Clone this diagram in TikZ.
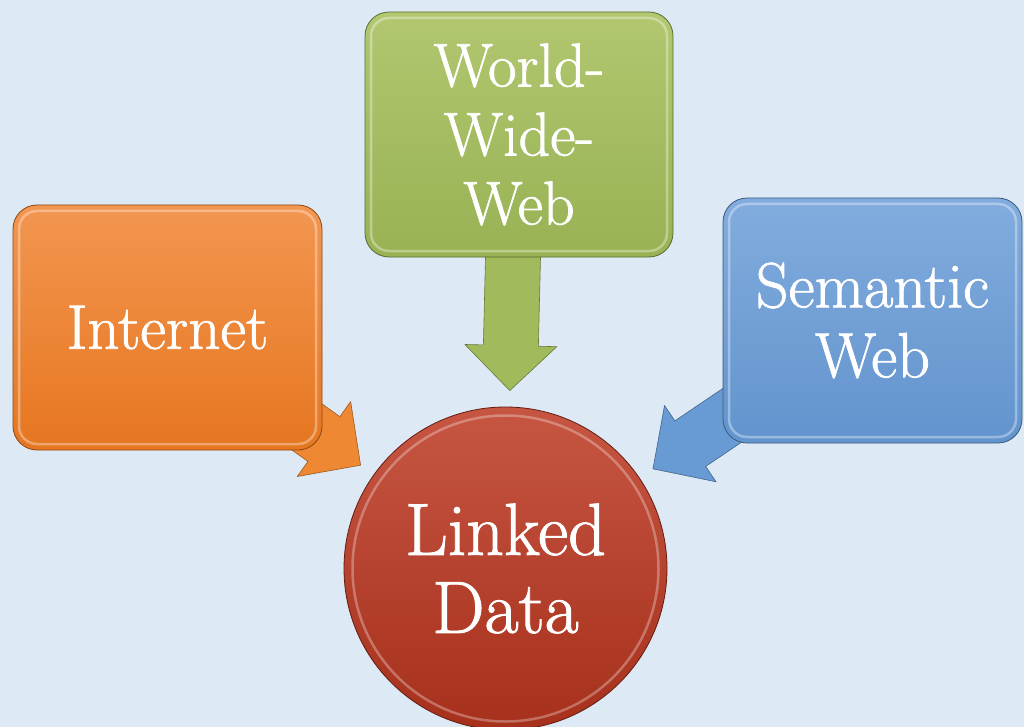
\documentclass[tikz,border=0pt]{standalone}
\usepackage{fontspec}
\usetikzlibrary{calc}

\newfontfamily\boxfont{Latin Modern Roman}[FakeBold=1.2]

\definecolor{paper}{RGB}{221,233,245}
\definecolor{orangetop}{RGB}{243,150,80}
\definecolor{orangebot}{RGB}{230,118,32}
\definecolor{greentop}{RGB}{178,199,112}
\definecolor{greenbot}{RGB}{152,178,84}
\definecolor{bluetop}{RGB}{130,172,222}
\definecolor{bluebot}{RGB}{98,148,205}
\definecolor{redtop}{RGB}{198,86,66}
\definecolor{redbot}{RGB}{166,48,28}
\definecolor{orangearr}{RGB}{238,136,50}
\definecolor{greenarr}{RGB}{160,186,92}
\definecolor{bluearr}{RGB}{104,155,212}

\pgfdeclarelayer{paperlayer}
\pgfdeclarelayer{arrowlayer}
\pgfsetlayers{paperlayer,arrowlayer,main}

% block arrow from a box towards the circle
\newcommand{\blockarrow}[3]{%
	\coordinate (tip) at ($(#3.center)!178pt!(#2)$);
	\coordinate (base) at ($(tip)!45pt!(#2)$);
	\coordinate (tail) at ($(tip)!150pt!(#2)$);
	\filldraw[fill=#1, draw=#1!65!black, line width=.6pt, line join=round]
		($(tail)!27.5pt!90:(tip)$) -- ($(base)!27.5pt!90:(tip)$) -- ($(base)!46pt!90:(tip)$) -- (tip)
		-- ($(base)!46pt!-90:(tip)$) -- ($(base)!27.5pt!-90:(tip)$) -- ($(tail)!27.5pt!-90:(tip)$) -- cycle;
}

\begin{document}
\begin{tikzpicture}[x=1pt, y=-1pt,
		box/.style={rectangle, rounded corners=24pt, draw=#1bot!60!black, line width=.8pt,
			top color=#1top, bottom color=#1bot, text=white, align=center,
			minimum height=245pt, inner sep=0pt,
			path picture={\draw[white, opacity=.35, line width=2.5pt, rounded corners=18pt]
				([shift={(6pt,-6pt)}]path picture bounding box.north west) rectangle
				([shift={(-6pt,6pt)}]path picture bounding box.south east);}},
		hub/.style={circle, draw=redbot!60!black, line width=.8pt,
			top color=redtop, bottom color=redbot, text=white, align=center,
			minimum size=323pt, inner sep=0pt,
			path picture={\draw[white, opacity=.3, line width=2.5pt]
				(path picture bounding box.center) circle (153pt);}}]
	\useasboundingbox (0,0) rectangle (1024,727);
	\clip (0,0) rectangle (1024,727);
	\begin{pgfonlayer}{paperlayer}
		\fill[paper] (0,0) rectangle (1024,727);
	\end{pgfonlayer}

	\node[box=orange, minimum width=309pt, font=\boxfont\fontsize{63}{70}\selectfont] (inet) at (167.5,327.5) {Internet};
	\node[box=green, minimum width=308pt, font=\boxfont\fontsize{62}{69}\selectfont] (www) at (519,134.5) {World-\\Wide-\\Web};
	\node[box=blue, minimum width=299pt, font=\boxfont\fontsize{64}{70}\selectfont] (sem) at (872.5,320.5) {Semantic\\Web};
	\node[hub, font=\boxfont\fontsize{74}{78}\selectfont] (ld) at (505.5,568.5) {Linked\\Data};
	\coordinate (wwwfoot) at ([xshift=-6pt]www.south);

	\begin{pgfonlayer}{arrowlayer}
		\blockarrow{orangearr}{inet.center}{ld}
		\blockarrow{greenarr}{wwwfoot}{ld}
		\blockarrow{bluearr}{sem.center}{ld}
	\end{pgfonlayer}
\end{tikzpicture}
\end{document}
